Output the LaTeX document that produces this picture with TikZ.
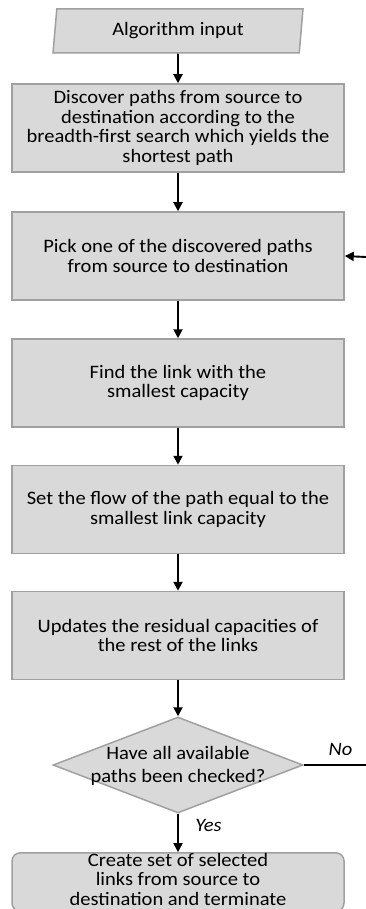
\documentclass[tikz,border=0pt]{standalone}
\usepackage{fontspec}
\setmainfont{Carlito}[FakeStretch=1.08]
\usetikzlibrary{shapes.geometric,arrows.meta}
\definecolor{boxfill}{HTML}{D9D9D9}
\definecolor{boxline}{HTML}{A0A0A0}
\begin{document}
\begin{tikzpicture}[x=1pt,y=-1pt,
  txt/.style={font=\fontsize{19}{19.5}\selectfont, align=center},
  procbox/.style={txt, draw=boxline, fill=boxfill, line width=1.5pt,
    minimum width=332pt, minimum height=88pt, inner sep=0pt},
  iobox/.style={txt, trapezium, trapezium stretches body, trapezium left angle=77,
    trapezium right angle=103, draw=boxline, fill=boxfill, line width=1.5pt,
    minimum width=250pt, minimum height=44pt, inner sep=0pt},
  decbox/.style={diamond, draw=boxline, fill=boxfill, line width=1.5pt,
    minimum width=250pt, minimum height=96pt, inner sep=0pt},
  endbox/.style={procbox, rounded corners=8pt, minimum height=58pt, text depth=6pt},
  flow/.style={line width=1.9pt, -{Triangle[length=9pt,width=9pt]}},
  branch/.style={font=\fontsize{19}{19.5}\selectfont\itshape}
]
\useasboundingbox (0,0) rectangle (366,909);
\clip (0,0) rectangle (366,909);

% flowchart blocks
\node[iobox]   (in)  at (178,31)    {Algorithm input};
\node[procbox] (b1)  at (178,128)   {Discover paths from source to\\destination according to the\\breadth-first search which yields the\\shortest path};
\node[procbox] (b2)  at (178,256)   {Pick one of the discovered paths\\from source to destination};
\node[procbox] (b3)  at (178,383)   {Find the link with the\\smallest capacity};
\node[procbox] (b4)  at (178,509.5) {Set the flow of the path equal to the\\smallest link capacity};
\node[procbox] (b5)  at (178,635.5) {Updates the residual capacities of\\the rest of the links};
\node[decbox]  (dec) at (178,765)   {};
\node[txt, font=\fontsize{19}{23.5}\selectfont] (dect) at (178,766) {Have all available\\paths been checked?};
\node[endbox]  (end) at (178,882)   {Create set of selected\\links from source to\\destination and terminate};

% loop ends leaving the frame on the right
\coordinate (loopin)  at (366,257);
\coordinate (loopout) at (366,765);

% connectors
\draw[flow] (in.south) -- (b1.north);
\draw[flow] (b1.south) -- (b2.north);
\draw[flow] (b2.south) -- (b3.north);
\draw[flow] (b3.south) -- (b4.north);
\draw[flow] (b4.south) -- (b5.north);
\draw[flow] (b5.south) -- (dec.north);
\draw[flow] (dec.south) -- node[branch, pos=0.47, anchor=base west, xshift=13pt] {Yes} (end.north);
\draw[line width=1.9pt] (dec.east) -- node[branch, pos=0.59, anchor=base, yshift=10pt] {No} (loopout);
\draw[flow] (loopin) -- (b2.east);
\end{tikzpicture}
\end{document}
